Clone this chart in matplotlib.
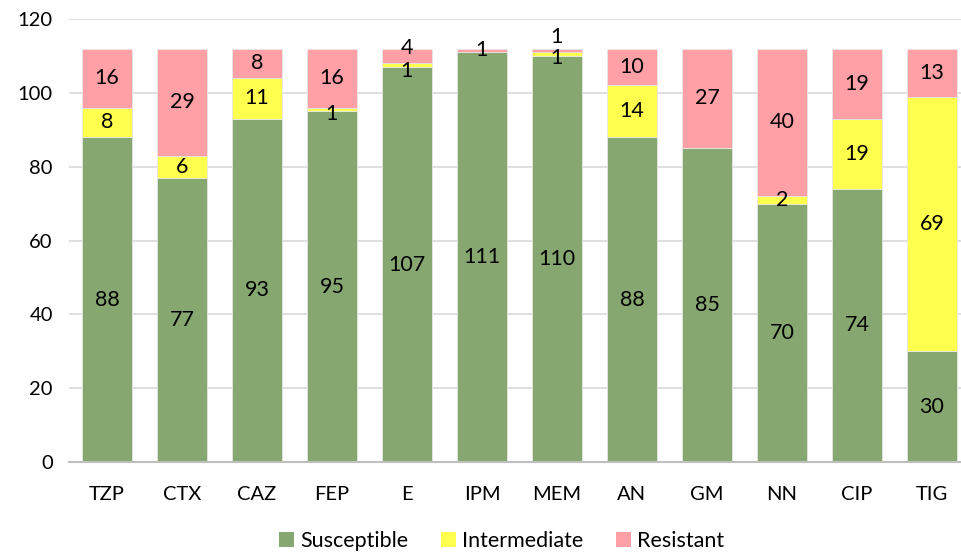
import matplotlib.pyplot as plt
from matplotlib.patches import Patch
import numpy as np

plt.rcParams['font.family'] = ['Lato', 'DejaVu Sans']

drugs = ['TZP', 'CTX', 'CAZ', 'FEP', 'E', 'IPM', 'MEM', 'AN', 'GM', 'NN', 'CIP', 'TIG']
susceptible = [88, 77, 93, 95, 107, 111, 110, 88, 85, 70, 74, 30]
intermediate = [8, 6, 11, 1, 1, 0, 1, 14, 0, 2, 19, 69]
resistant = [16, 29, 8, 16, 4, 1, 1, 10, 27, 40, 19, 13]

series = [('Susceptible', susceptible, '#86a76f'),
          ('Intermediate', intermediate, '#ffff4d'),
          ('Resistant', resistant, '#ffa0a6')]

# small label nudges (points) where Excel pushed labels apart
nudge = {('E', 'Resistant'): 6, ('E', 'Intermediate'): -4,
         ('MEM', 'Resistant'): 10, ('MEM', 'Intermediate'): -3,
         ('FEP', 'Intermediate'): -3}

fig = plt.figure(figsize=(9.61, 5.52), dpi=100)
ax = fig.add_axes([0.0723, 0.163, 0.9365, 0.8025])

x = np.arange(len(drugs))
bottom = np.zeros(len(drugs))
for name, vals, color in series:
    vals = np.array(vals, dtype=float)
    ax.bar(x, vals, 0.667, bottom=bottom, color=color, edgecolor='#e6e6e6',
           linewidth=0.6, zorder=2)
    for i, v in enumerate(vals):
        if v > 0:
            dy = nudge.get((drugs[i], name), 0)
            ax.annotate(f'{int(v)}', (x[i], bottom[i] + v / 2), xytext=(0, dy),
                        textcoords='offset points', ha='center', va='center',
                        fontsize=15.5, color='black', zorder=3)
    bottom += vals

ax.set_xlim(-0.5, len(drugs) - 0.5)
ax.set_ylim(0, 120)
ax.set_yticks(range(0, 121, 20))
ax.set_xticks(x)
ax.set_xticklabels(drugs)
ax.yaxis.grid(True, color='#d9d9d9', linewidth=1.2, zorder=0)
ax.set_axisbelow(True)
for s in ['top', 'right', 'left']:
    ax.spines[s].set_visible(False)
ax.spines['bottom'].set_color('#bfbfbf')
ax.spines['bottom'].set_linewidth(1.5)
ax.tick_params(axis='both', length=0, labelsize=14.5, colors='black')
ax.tick_params(axis='x', pad=17)
ax.tick_params(axis='y', pad=12)

handles = [Patch(facecolor=c, edgecolor='none', label=n) for n, _, c in series]
fig.legend(handles=handles, loc='center', bbox_to_anchor=(0.522, 0.02),
           ncol=3, frameon=False, fontsize=15.5, handlelength=0.7,
           handleheight=0.7, handletextpad=0.3, columnspacing=1.5)

fig.savefig('out.png', dpi=100)
